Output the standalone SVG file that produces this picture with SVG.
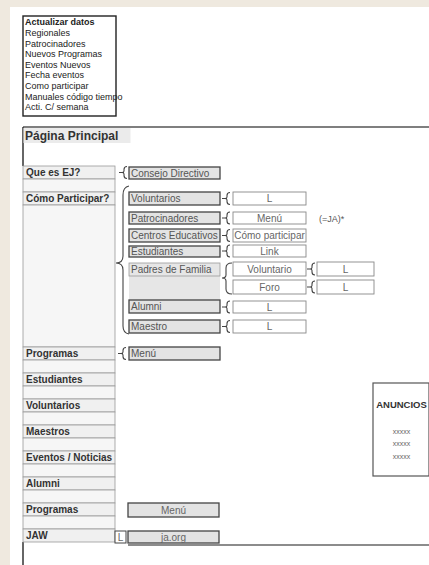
<svg xmlns="http://www.w3.org/2000/svg" xmlns:xlink="http://www.w3.org/1999/xlink" width="429" height="565" viewBox="0 0 429 565">
<style>
text{font-family:"Liberation Sans",Arial,sans-serif}
.tb{font-size:9px;fill:#222}
.lab{font-size:10px;font-weight:bold;fill:#333}
.cell{fill:#f0f0f0;stroke:#9a9a9a;stroke-width:0.8}
.blank{fill:#f6f6f6;stroke:#9a9a9a;stroke-width:0.8}
.mid{fill:#e3e3e3;stroke:#444;stroke-width:1.3}
.mt{font-size:10px;fill:#555}
.rb{fill:#fff;stroke:#888;stroke-width:0.9}
.rt{font-size:10px;fill:#666;text-anchor:middle}
.br{fill:none;stroke:#444;stroke-width:1.1}
</style>
<defs>
<path id="sb" d="M0,0 H3 M8,-6 Q5,-6 5,-3 V-1.5 Q5,0 3,0 Q5,0 5,1.5 V3 Q5,6 8,6"/>
</defs>
<rect x="0" y="0" width="429" height="565" fill="#fff"/>
<rect x="0" y="0" width="429" height="7" fill="#efe9df"/>
<rect x="0" y="0" width="10" height="565" fill="#efe9df"/>

<g id="actualizar">
<rect x="23" y="16" width="93" height="100" fill="#fff" stroke="#222" stroke-width="1.4"/>
<text x="25" y="25" class="tb" font-weight="bold">Actualizar datos</text>
<text x="25" y="36" class="tb" fill="#555">Regionales</text>
<text x="25" y="46.5" class="tb">Patrocinadores</text>
<text x="25" y="57" class="tb">Nuevos Programas</text>
<text x="25" y="67.5" class="tb">Eventos Nuevos</text>
<text x="25" y="78" class="tb">Fecha eventos</text>
<text x="25" y="89" class="tb">Como participar</text>
<text x="25" y="99.5" class="tb">Manuales código tiempo</text>
<text x="25" y="110" class="tb">Acti. C/ semana</text>
</g>

<g id="frame">
<line x1="23" y1="127" x2="429" y2="127" stroke="#555" stroke-width="1.5"/>
<line x1="23" y1="127" x2="23" y2="166" stroke="#333" stroke-width="1.5"/>
<line x1="23" y1="542" x2="23" y2="565" stroke="#333" stroke-width="1.5"/>
<line x1="128" y1="545" x2="429" y2="545" stroke="#666" stroke-width="1.3"/>
<rect x="23.5" y="128" width="107" height="15" fill="#ebebeb"/>
<text x="25" y="140" font-size="12" font-weight="bold" fill="#333">Página Principal</text>
</g>

<g id="menu-izq">
<rect x="23" y="166" width="92" height="13" class="cell"/><text x="26" y="176" class="lab">Que es EJ?</text>
<rect x="23" y="179" width="92" height="13" class="blank"/>
<rect x="23" y="192" width="92" height="13" class="cell"/><text x="26" y="202" class="lab">Cómo Participar?</text>
<rect x="23" y="205" width="92" height="142" class="blank"/>
<rect x="23" y="347" width="92" height="13" class="cell"/><text x="26" y="357" class="lab">Programas</text>
<rect x="23" y="360" width="92" height="13" class="blank"/>
<rect x="23" y="373" width="92" height="13" class="cell"/><text x="26" y="383" class="lab">Estudiantes</text>
<rect x="23" y="386" width="92" height="13" class="blank"/>
<rect x="23" y="399" width="92" height="13" class="cell"/><text x="26" y="409" class="lab">Voluntarios</text>
<rect x="23" y="412" width="92" height="13" class="blank"/>
<rect x="23" y="425" width="92" height="13" class="cell"/><text x="26" y="435" class="lab">Maestros</text>
<rect x="23" y="438" width="92" height="13" class="blank"/>
<rect x="23" y="451" width="92" height="13" class="cell"/><text x="26" y="461" class="lab">Eventos / Noticias</text>
<rect x="23" y="464" width="92" height="13" class="blank"/>
<rect x="23" y="477" width="92" height="13" class="cell"/><text x="26" y="487" class="lab">Alumni</text>
<rect x="23" y="490" width="92" height="13" class="blank"/>
<rect x="23" y="503" width="92" height="13" class="cell"/><text x="26" y="513" class="lab">Programas</text>
<rect x="23" y="516" width="92" height="13" class="blank"/>
<rect x="23" y="529" width="92" height="13" class="cell"/><text x="26" y="539" class="lab">JAW</text>
</g>

<g id="consejo"><rect x="129" y="167" width="91" height="12" class="mid"/><text x="131" y="176.5" class="mt">Consejo Directivo</text></g>
<g id="voluntarios"><rect x="129" y="192" width="91" height="13" class="mid"/><text x="131" y="202" class="mt">Voluntarios</text></g>
<g id="patrocinadores"><rect x="129" y="212" width="91" height="12" class="mid"/><text x="131" y="221.5" class="mt">Patrocinadores</text></g>
<g id="centros"><rect x="129" y="229" width="91" height="13" class="mid"/><text x="131" y="239" class="mt">Centros Educativos</text></g>
<g id="estudiantes"><rect x="129" y="246" width="91" height="11" class="mid"/><text x="131" y="255" class="mt">Estudiantes</text></g>
<g id="padres">
<rect x="129" y="263" width="91" height="37" fill="#e6e6e6"/>
<rect x="129" y="263" width="91" height="13" fill="none" stroke="#999" stroke-width="0.8"/>
<text x="131" y="273" class="mt">Padres de Familia</text>
</g>
<g id="alumni"><rect x="129" y="300" width="91" height="13" class="mid"/><text x="131" y="310" class="mt">Alumni</text></g>
<g id="maestro"><rect x="129" y="320" width="91" height="13" class="mid"/><text x="131" y="330" class="mt">Maestro</text></g>
<g id="programas-menu"><rect x="129" y="347" width="91" height="13" class="mid"/><text x="131" y="357" class="mt">Menú</text></g>
<g id="programas-menu2"><rect x="128" y="503" width="91" height="14" class="mid"/><text x="173.5" y="513.5" class="rt" fill="#555">Menú</text></g>
<g id="jaorg"><rect x="115" y="531" width="11" height="12" fill="#fff" stroke="#444" stroke-width="1"/><text x="120.5" y="540.5" class="rt" fill="#444">L</text>
<rect x="128" y="531" width="91" height="12" class="mid"/><text x="173.5" y="540.5" class="rt" fill="#555">ja.org</text></g>

<g id="vol-l"><rect x="233" y="192" width="73" height="13" class="rb"/><text x="269.5" y="202" class="rt">L</text></g>
<g id="pat-menu"><rect x="233" y="212" width="73" height="12" class="rb"/><text x="269.5" y="221.5" class="rt">Menú</text></g>
<text x="319" y="221.5" font-size="9" fill="#555">(=JA)*</text>
<g id="cen-como"><rect x="233" y="229" width="73" height="13" class="rb"/><text x="269.5" y="239" class="rt">Cómo participar</text></g>
<g id="est-link"><rect x="233" y="245" width="73" height="12" class="rb"/><text x="269.5" y="254.5" class="rt">Link</text></g>
<g id="pad-vol"><rect x="233" y="262" width="73" height="14" class="rb"/><text x="269.5" y="272.5" class="rt">Voluntario</text></g>
<g id="pad-foro"><rect x="233" y="280" width="73" height="14" class="rb"/><text x="269.5" y="290.5" class="rt">Foro</text></g>
<g id="pad-vol-l"><rect x="317" y="262" width="57" height="14" class="rb"/><text x="345.5" y="272.5" class="rt">L</text></g>
<g id="pad-foro-l"><rect x="317" y="280" width="57" height="14" class="rb"/><text x="345.5" y="290.5" class="rt">L</text></g>
<g id="alu-l"><rect x="233" y="301" width="73" height="12" class="rb"/><text x="269.5" y="310.5" class="rt">L</text></g>
<g id="mae-l"><rect x="233" y="320" width="73" height="13" class="rb"/><text x="269.5" y="330" class="rt">L</text></g>

<g id="anuncios">
<rect x="373" y="383" width="56" height="93" fill="#fff" stroke="#555" stroke-width="1.2"/>
<text x="401.5" y="408" font-size="9.5" font-weight="bold" fill="#333" text-anchor="middle">ANUNCIOS</text>
<text x="401.5" y="433.5" font-size="7" fill="#666" text-anchor="middle">xxxxx</text>
<text x="401.5" y="446" font-size="7" fill="#666" text-anchor="middle">xxxxx</text>
<text x="401.5" y="458.5" font-size="7" fill="#666" text-anchor="middle">xxxxx</text>
</g>

<g id="connectors" class="br">
<use xlink:href="#sb" x="119" y="172.5"/>
<use xlink:href="#sb" x="118" y="353.5"/>
<path d="M129,186 Q123,187 123,195 V256 Q123,263 116,263 Q123,263 123,270 V326 Q123,333 129,334"/>
<use xlink:href="#sb" x="222" y="198.5"/>
<use xlink:href="#sb" x="222" y="218"/>
<use xlink:href="#sb" x="222" y="235.5"/>
<use xlink:href="#sb" x="222" y="251"/>
<path d="M232,263 Q226,263 226,268 V275 Q226,278 222,278 Q226,278 226,281 V289 Q226,294 232,294"/>
<use xlink:href="#sb" x="307" y="269"/>
<use xlink:href="#sb" x="307" y="287"/>
<use xlink:href="#sb" x="222" y="307"/>
<use xlink:href="#sb" x="222" y="326.5"/>
</g>
</svg>
